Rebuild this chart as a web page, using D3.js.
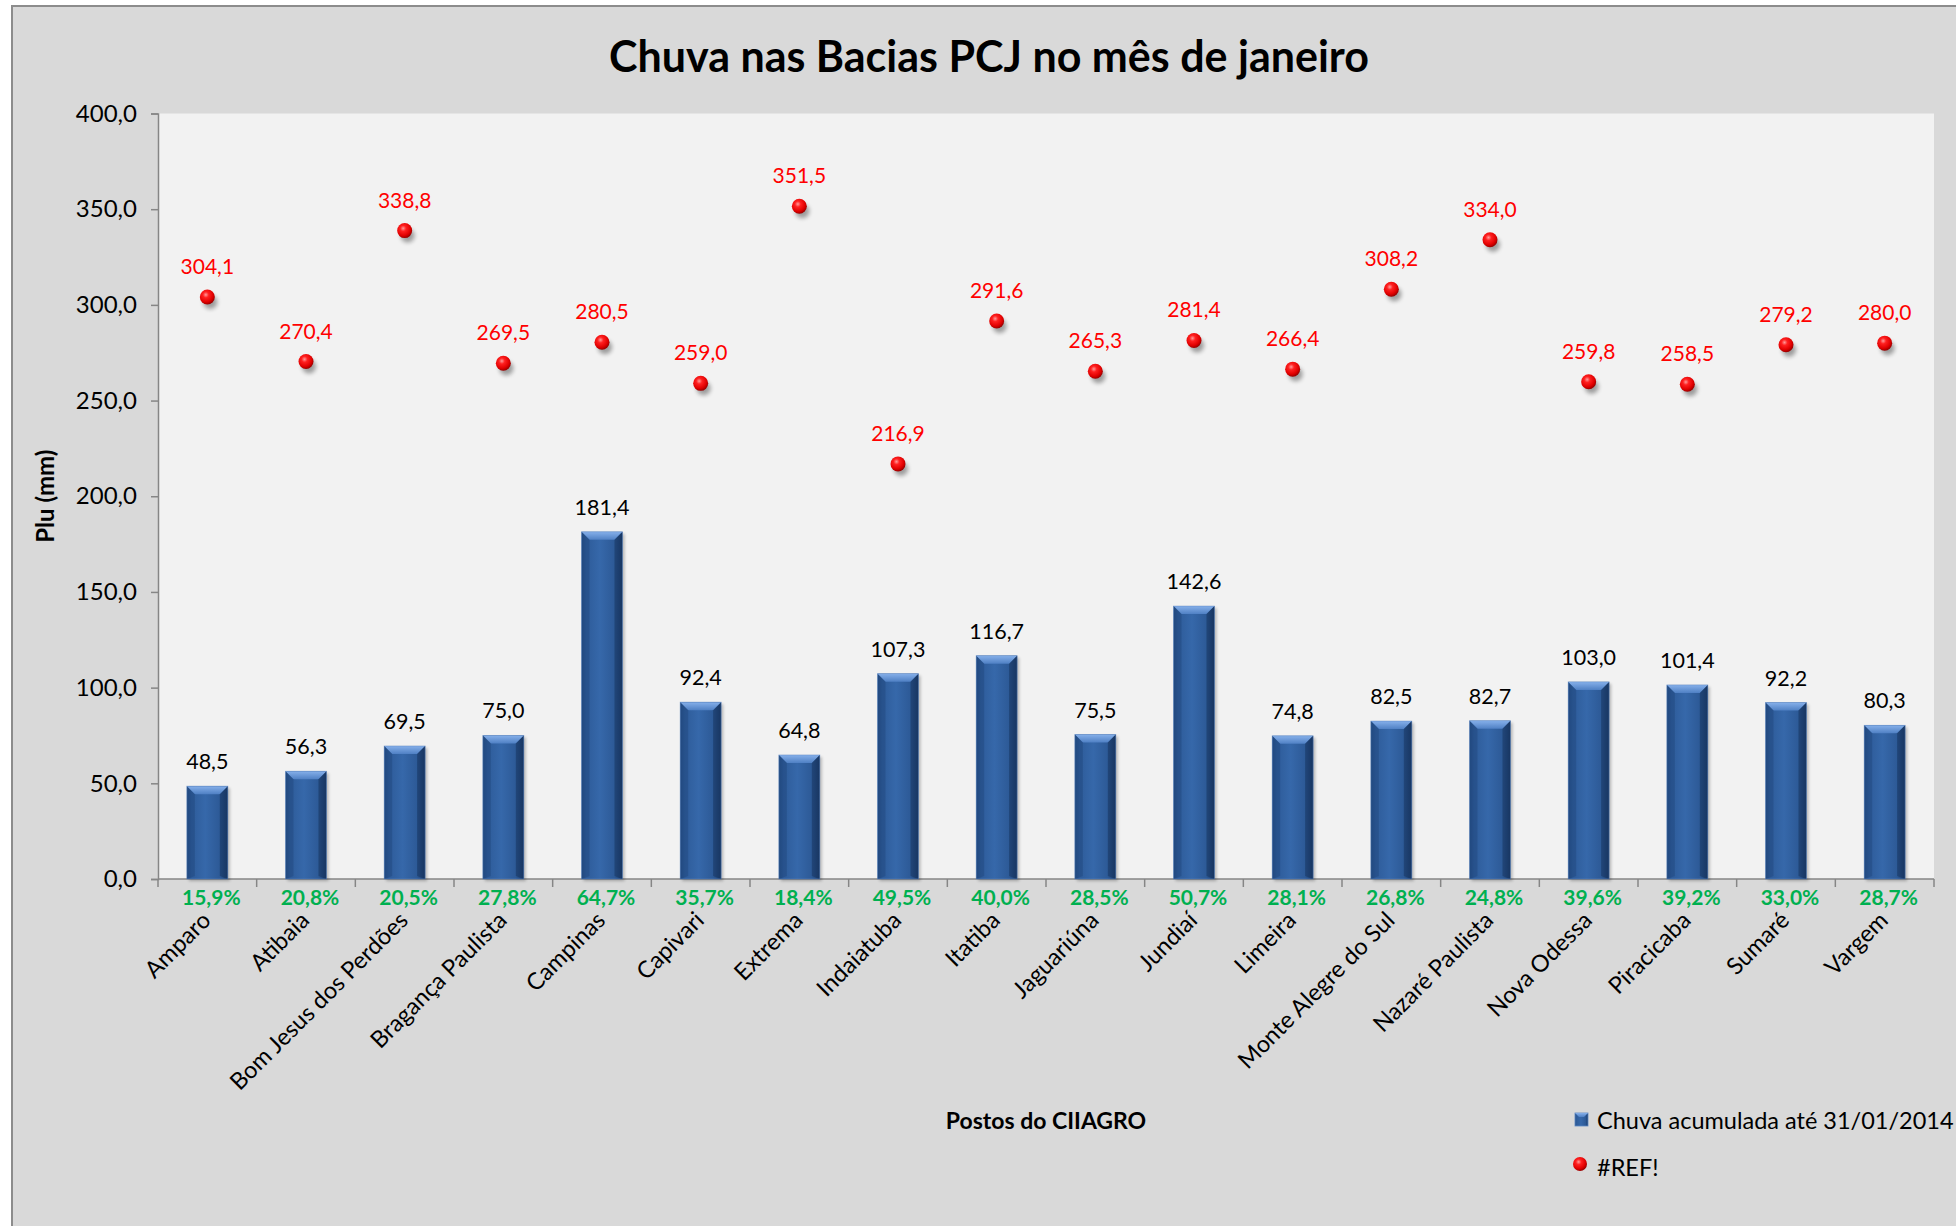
<!DOCTYPE html>
<html>
<head>
<meta charset="utf-8">
<script src="https://cdn.jsdelivr.net/npm/d3@7"></script>
<style>
  html, body { margin: 0; padding: 0; background: #ffffff; }
  svg { display: block; }
  text { font-family: Lato, "Open Sans", sans-serif; }
</style>
</head>
<body>
<svg id="chart" width="1956" height="1226"></svg>
<script>
const categories = ["Amparo","Atibaia","Bom Jesus dos Perdões","Bragança Paulista","Campinas","Capivari","Extrema","Indaiatuba","Itatiba","Jaguariúna","Jundiaí","Limeira","Monte Alegre do Sul","Nazaré Paulista","Nova Odessa","Piracicaba","Sumaré","Vargem"];
const chuvaAcumulada = [48.5,56.3,69.5,75.0,181.4,92.4,64.8,107.3,116.7,75.5,142.6,74.8,82.5,82.7,103.0,101.4,92.2,80.3];
const refValues = [304.1,270.4,338.8,269.5,280.5,259.0,351.5,216.9,291.6,265.3,281.4,266.4,308.2,334.0,259.8,258.5,279.2,280.0];
const percentages = [15.9,20.8,20.5,27.8,64.7,35.7,18.4,49.5,40.0,28.5,50.7,28.1,26.8,24.8,39.6,39.2,33.0,28.7];
const yTicks = [0,50,100,150,200,250,300,350,400];
const titleText = "Chuva nas Bacias PCJ no mês de janeiro";
const yTitle = "Plu (mm)";
const xTitle = "Postos do CIIAGRO";
const legendLabels = ["Chuva acumulada até 31/01/2014", "#REF!"];

const locale = d3.formatLocale({decimal: ",", thousands: ".", grouping: [3], currency: ["R$", ""]});
const f1 = locale.format(".1f");

const svg = d3.select("#chart");
const plot = {left: 158, right: 1934, top: 113.5, bottom: 879};

// defs
const defs = svg.append("defs");
const barGrad = defs.append("linearGradient").attr("id","barGrad").attr("x1","0").attr("x2","1").attr("y1","0").attr("y2","0");
[["0%","#244d85"],["12%","#2e5c9a"],["45%","#3668aa"],["80%","#2d5a97"],["100%","#1c3d6c"]].forEach(s=>barGrad.append("stop").attr("offset",s[0]).attr("stop-color",s[1]));
const bevelGrad = defs.append("linearGradient").attr("id","bevelGrad").attr("x1","0").attr("x2","0").attr("y1","0").attr("y2","1");
[["0%","#86b0ea"],["100%","#4f80c4"]].forEach(s=>bevelGrad.append("stop").attr("offset",s[0]).attr("stop-color",s[1]));
const dotGrad = defs.append("radialGradient").attr("id","dotGrad").attr("cx","0.4").attr("cy","0.35").attr("r","0.65");
[["0%","#ff9a9a"],["30%","#ff2020"],["75%","#e00000"],["100%","#9a0000"]].forEach(s=>dotGrad.append("stop").attr("offset",s[0]).attr("stop-color",s[1]));
const blur = defs.append("filter").attr("id","blur").attr("x","-1").attr("y","-1").attr("width","3").attr("height","3");
blur.append("feGaussianBlur").attr("stdDeviation","2.2");
const barShadow = defs.append("filter").attr("id","barShadow").attr("x","-0.3").attr("y","-0.1").attr("width","1.6").attr("height","1.2");
barShadow.append("feGaussianBlur").attr("stdDeviation","1.5");

// backgrounds
svg.append("rect").attr("x",12).attr("y",6).attr("width",2000).attr("height",1300)
  .attr("fill","#d9d9d9").attr("stroke","#8c8c8c").attr("stroke-width",2);
svg.append("rect").attr("x",plot.left).attr("y",plot.top).attr("width",plot.right-plot.left).attr("height",plot.bottom-plot.top).attr("fill","#f2f2f2");

// scales
const x = d3.scaleBand().domain(categories).range([plot.left, plot.right]).paddingInner(0.585).paddingOuter(0.2925);
const xCell = d3.scaleBand().domain(categories).range([plot.left, plot.right]).padding(0);
const y = d3.scaleLinear().domain([0,400]).range([plot.bottom, plot.top]);
const cx = c => x(c) + x.bandwidth()/2;

// title
svg.append("text").attr("x", (plot.left+plot.right)/2 - 57).attr("y", 55).attr("text-anchor","middle").attr("dominant-baseline","central")
  .attr("font-size", 43).attr("font-weight","bold").attr("fill","#000").text(titleText);

// y axis
const yAxis = d3.axisLeft(y).tickValues(yTicks).tickFormat(f1).tickSize(7).tickPadding(14);
const gy = svg.append("g").attr("transform",`translate(${plot.left},0)`).call(yAxis);
gy.select(".domain").attr("stroke","#868686").attr("stroke-width",1.5);
gy.selectAll(".tick line").attr("stroke","#868686").attr("stroke-width",1.5);
gy.selectAll(".tick text").attr("font-size",24).attr("fill","#000").style("font-family","Lato, sans-serif");

// y title
svg.append("text").attr("transform",`translate(44,${(plot.top+plot.bottom)/2}) rotate(-90)`).attr("text-anchor","middle").attr("dominant-baseline","central")
  .attr("font-size",24).attr("font-weight","bold").text(yTitle);

// x axis line & ticks at cell boundaries
const gx = svg.append("g");
gx.append("line").attr("x1",plot.left).attr("x2",plot.right).attr("y1",plot.bottom).attr("y2",plot.bottom).attr("stroke","#868686").attr("stroke-width",1.5);
const boundaries = categories.map(c => xCell(c)).concat([plot.right]);
gx.selectAll("line.tk").data(boundaries).enter().append("line").attr("class","tk")
  .attr("x1",d=>d).attr("x2",d=>d).attr("y1",plot.bottom).attr("y2",plot.bottom+8).attr("stroke","#868686").attr("stroke-width",1.5);

// bars
const bars = svg.append("g");
const bw = x.bandwidth();
categories.forEach((c,i) => {
  const v = chuvaAcumulada[i];
  const x0 = x(c), yt = y(v), h = y(0) - y(v);
  const g = bars.append("g");
  g.append("rect").attr("x",x0+2).attr("y",yt+2).attr("width",bw).attr("height",h).attr("fill","#000").attr("opacity",0.25).attr("filter","url(#barShadow)");
  g.append("rect").attr("x",x0).attr("y",yt).attr("width",bw).attr("height",h).attr("fill","url(#barGrad)");
  const b = 8;
  g.append("path").attr("d",`M${x0},${yt} L${x0+bw},${yt} L${x0+bw-b},${yt+b} L${x0+b},${yt+b} Z`).attr("fill","url(#bevelGrad)");
  g.append("path").attr("d",`M${x0},${yt} L${x0+b},${yt+b} L${x0+b},${yt+h-3} L${x0},${yt+h} Z`).attr("fill","#1f4478").attr("opacity",0.4);
  g.append("path").attr("d",`M${x0+bw},${yt} L${x0+bw-b},${yt+b} L${x0+bw-b},${yt+h-3} L${x0+bw},${yt+h} Z`).attr("fill","#142f57").attr("opacity",0.45);
  g.append("rect").attr("x",x0).attr("y",yt).attr("width",bw).attr("height",h).attr("fill","none").attr("stroke","#5b87c4").attr("stroke-width",0.8).attr("opacity",0.6);
});

// bar value labels
svg.append("g").selectAll("text").data(categories).enter().append("text")
  .attr("x",c=>cx(c)).attr("y",(c,i)=>y(chuvaAcumulada[i]) - 17)
  .attr("text-anchor","middle").attr("font-size",21.5).attr("fill","#000")
  .text((c,i)=>f1(chuvaAcumulada[i]));

// ref points
const pts = svg.append("g");
categories.forEach((c,i) => {
  const px = cx(c), py = y(refValues[i]);
  pts.append("ellipse").attr("cx",px+3).attr("cy",py+5).attr("rx",7).attr("ry",7).attr("fill","#000").attr("opacity",0.35).attr("filter","url(#blur)");
  pts.append("circle").attr("cx",px).attr("cy",py).attr("r",7.5).attr("fill","url(#dotGrad)");
});
svg.append("g").selectAll("text").data(categories).enter().append("text")
  .attr("x",c=>cx(c)).attr("y",(c,i)=>y(refValues[i]) - 23)
  .attr("text-anchor","middle").attr("font-size",21).attr("fill","#ff0000")
  .text((c,i)=>f1(refValues[i]));

// percent labels
svg.append("g").selectAll("text").data(categories).enter().append("text")
  .attr("x",c=>cx(c)+4).attr("y",plot.bottom+17)
  .attr("text-anchor","middle").attr("dominant-baseline","central").attr("font-size",21).attr("font-weight","bold").attr("fill","#00b050")
  .text((c,i)=>f1(percentages[i]) + "%");

// category labels
svg.append("g").selectAll("text").data(categories).enter().append("text")
  .attr("transform",c=>`translate(${cx(c)-1},${plot.bottom+37}) rotate(-45)`)
  .attr("text-anchor","end").attr("dy","0.35em").attr("font-size",23.5).attr("fill","#000")
  .text(c=>c);

// x title
svg.append("text").attr("x",(plot.left+plot.right)/2).attr("y",1120).attr("text-anchor","middle").attr("dominant-baseline","central")
  .attr("font-size",23).attr("font-weight","bold").text(xTitle);

// legend
const lg = svg.append("g");
lg.append("rect").attr("x",1575).attr("y",1113).attr("width",13).attr("height",13).attr("fill","url(#barGrad)").attr("stroke","#5b87c4").attr("stroke-width",0.8);
lg.append("path").attr("d","M1575,1113 L1588,1113 L1584,1117 L1579,1117 Z").attr("fill","url(#bevelGrad)");
lg.append("circle").attr("cx",1580).attr("cy",1164).attr("r",7).attr("fill","url(#dotGrad)");
lg.selectAll("text").data(legendLabels).enter().append("text")
  .attr("x",1597).attr("y",(d,i)=>1120 + i*47).attr("dominant-baseline","central").attr("font-size",23.5).attr("fill","#000")
  .text(d=>d);
</script>
</body>
</html>
